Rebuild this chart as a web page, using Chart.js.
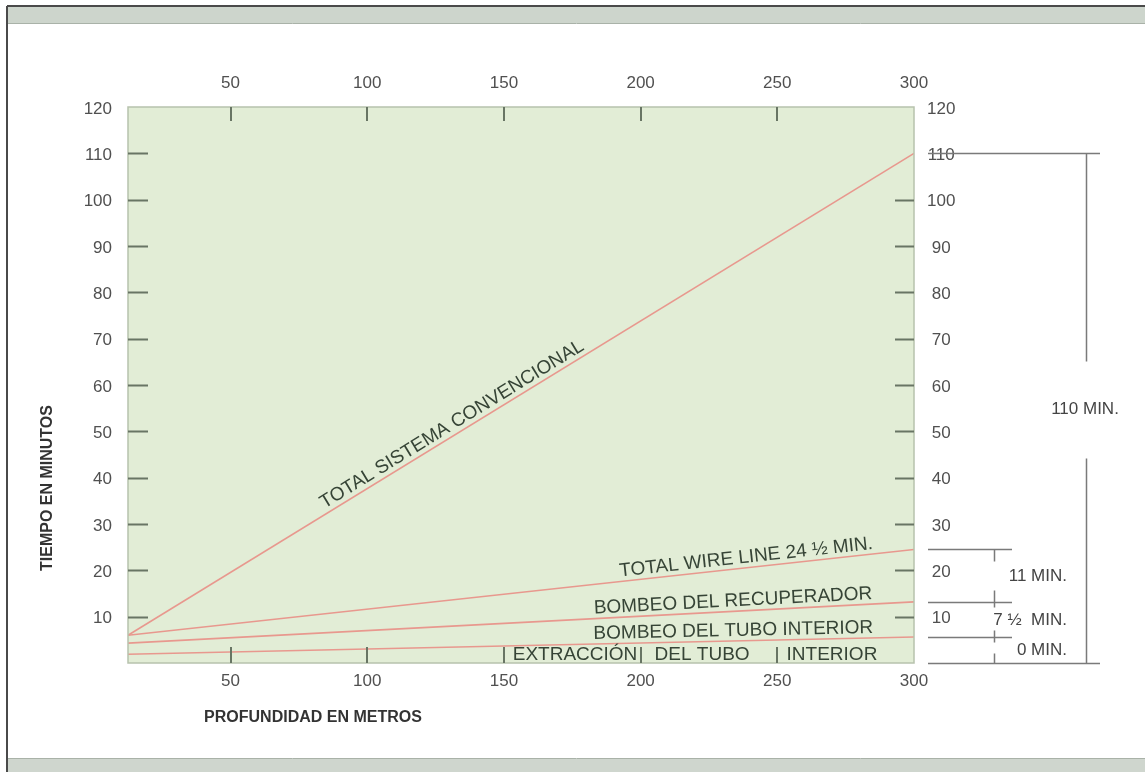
<!DOCTYPE html>
<html>
<head>
<meta charset="utf-8">
<script src="https://cdn.jsdelivr.net/npm/chart.js@4.4.1/dist/chart.umd.min.js"></script>
<style>
  html, body { margin: 0; padding: 0; background: #fff; }
  #chart { display: block; }
</style>
</head>
<body>
<canvas id="chart" width="1145" height="772"></canvas>
<script>
// depth (metres) at both ends of every line
const depth = [12.5, 300];
// minutes at those depths
const convencional = [6, 110];
const wireLine = [6, 24.5];
const recuperador = [4.3, 13.2];
const tuboInterior = [1.9, 5.6];

const xTicks = [50, 100, 150, 200, 250, 300];
const yTicks = [10, 20, 30, 40, 50, 60, 70, 80, 90, 100, 110, 120];

// bracket on the right hand side (minutes)
const bracketLevels = [110, 24.5, 13.2, 5.6, 0];
const bracketTexts = ['11 MIN.', '7 \u00BD  MIN.', '0 MIN.'];

const FONT = '"Liberation Sans", Arial, sans-serif';
const LINE_RED = 'rgb(232,152,142)';
const TICK = 'rgb(104,117,100)';
const INK = 'rgb(54,68,54)';
const NUM = 'rgb(80,80,80)';

function pts(ys) {
    return depth.map((d, i) => ({ x: d, y: ys[i] }));
}

function lineLabel(chart, ys, atX, text) {
    const ctx = chart.ctx;
    const sx = chart.scales.x, sy = chart.scales.y;
    const x0 = sx.getPixelForValue(depth[0]), y0 = sy.getPixelForValue(ys[0]);
    const x1 = sx.getPixelForValue(depth[1]), y1 = sy.getPixelForValue(ys[1]);
    const ang = Math.atan2(y1 - y0, x1 - x0);
    const t = (atX - depth[0]) / (depth[1] - depth[0]);
    ctx.save();
    ctx.translate(x0 + t * (x1 - x0), y0 + t * (y1 - y0));
    ctx.rotate(ang);
    ctx.fillStyle = INK;
    ctx.font = '19px ' + FONT;
    ctx.textAlign = 'center';
    ctx.textBaseline = 'alphabetic';
    ctx.fillText(text, 0, -5);
    ctx.restore();
}

const decor = {
    id: 'decor',
    beforeDraw(chart) {
        const ctx = chart.ctx;
        const { left, top, right, bottom } = chart.chartArea;
        const W = chart.width;
        ctx.save();
        ctx.fillStyle = '#fff';
        ctx.fillRect(0, 0, W, chart.height);
        // page bands
        ctx.fillStyle = '#cdd5cc';
        ctx.fillRect(8, 7, W - 8, 16);
        ctx.fillStyle = '#cfd6ce';
        ctx.fillRect(8, 759, W - 8, 13);
        ctx.strokeStyle = '#a9b2a8';
        ctx.lineWidth = 1;
        ctx.beginPath();
        ctx.moveTo(8, 23.5); ctx.lineTo(W, 23.5);
        ctx.moveTo(8, 758.5); ctx.lineTo(W, 758.5);
        ctx.stroke();
        ctx.strokeStyle = '#4a4a4a';
        ctx.lineWidth = 2;
        ctx.beginPath();
        ctx.moveTo(7, 6); ctx.lineTo(W, 6);
        ctx.moveTo(7, 6); ctx.lineTo(7, chart.height);
        ctx.stroke();
        // plot background
        ctx.fillStyle = '#e2edd6';
        ctx.fillRect(left, top, right - left, bottom - top);
        ctx.restore();
    },
    afterDatasetsDraw(chart) {
        const ctx = chart.ctx;
        const { left, top, right, bottom } = chart.chartArea;
        const sx = chart.scales.x, sy = chart.scales.y;
        ctx.save();
        ctx.strokeStyle = '#b7c2ad';
        ctx.lineWidth = 1.5;
        ctx.strokeRect(left, top, right - left, bottom - top);

        // inside tick marks
        ctx.strokeStyle = TICK;
        ctx.lineWidth = 2;
        ctx.beginPath();
        yTicks.filter(v => v < 120).forEach(v => {
            const y = Math.round(sy.getPixelForValue(v)) + 0.5;
            ctx.moveTo(left, y); ctx.lineTo(left + 20, y);
            if (v <= 100) { ctx.moveTo(right - 19, y); ctx.lineTo(right, y); }
        });
        xTicks.filter(v => v < 300).forEach(v => {
            const x = Math.round(sx.getPixelForValue(v));
            ctx.moveTo(x, top); ctx.lineTo(x, top + 14);
            ctx.moveTo(x, bottom); ctx.lineTo(x, bottom - 16);
        });
        ctx.stroke();

        // labels on the lines
        lineLabel(chart, convencional, 133, 'TOTAL SISTEMA CONVENCIONAL');
        lineLabel(chart, wireLine, 239, 'TOTAL WIRE LINE 24 \u00BD MIN.');
        lineLabel(chart, recuperador, 234, 'BOMBEO DEL RECUPERADOR');
        lineLabel(chart, tuboInterior, 234, 'BOMBEO DEL TUBO INTERIOR');

        ctx.fillStyle = INK;
        ctx.font = '19px ' + FONT;
        ctx.textAlign = 'center';
        ctx.textBaseline = 'middle';
        ctx.fillText('EXTRACCI\u00D3N', sx.getPixelForValue(176), bottom - 8);
        ctx.fillText('DEL TUBO', sx.getPixelForValue(222.5), bottom - 8);
        ctx.fillText('INTERIOR', sx.getPixelForValue(270), bottom - 8);

        // axis titles
        ctx.fillStyle = '#333';
        ctx.font = 'bold 16px ' + FONT;
        ctx.fillText('PROFUNDIDAD EN METROS', 313, 718);
        ctx.save();
        ctx.translate(48, 488);
        ctx.rotate(-Math.PI / 2);
        ctx.fillText('TIEMPO EN MINUTOS', 0, 0);
        ctx.restore();

        // bracket on the right
        const yl = bracketLevels.map(v => Math.round(sy.getPixelForValue(v)) + 0.5);
        const xBig = 1086.5, xSmall = 994.5;
        ctx.strokeStyle = '#7a7a7a';
        ctx.lineWidth = 1.5;
        ctx.beginPath();
        ctx.moveTo(right + 14, yl[0]); ctx.lineTo(1100, yl[0]);
        ctx.moveTo(right + 14, yl[4]); ctx.lineTo(1100, yl[4]);
        const mid = (yl[0] + yl[4]) / 2;
        ctx.moveTo(xBig, yl[0]); ctx.lineTo(xBig, mid - 47);
        ctx.moveTo(xBig, mid + 50); ctx.lineTo(xBig, yl[4]);
        for (let i = 1; i <= 3; i++) {
            ctx.moveTo(right + 14, yl[i]); ctx.lineTo(1012, yl[i]);
        }
        ctx.moveTo(xSmall, yl[1]); ctx.lineTo(xSmall, yl[1] + 12);
        ctx.moveTo(xSmall, yl[2] - 12); ctx.lineTo(xSmall, yl[2] + 5);
        ctx.moveTo(xSmall, yl[3] - 7); ctx.lineTo(xSmall, yl[3] + 5);
        ctx.moveTo(xSmall, yl[4] - 10); ctx.lineTo(xSmall, yl[4]);
        ctx.stroke();

        ctx.fillStyle = '#444';
        ctx.font = '17px ' + FONT;
        ctx.textAlign = 'center';
        ctx.fillText('110 MIN.', 1085, mid + 1);
        ctx.textAlign = 'right';
        for (let i = 0; i < 3; i++) {
            ctx.fillText(bracketTexts[i], 1067, (yl[i + 1] + yl[i + 2]) / 2);
        }
        ctx.restore();
    }
};

const tickFont = { family: FONT, size: 17 };
const setXTicks = s => { s.ticks = xTicks.map(v => ({ value: v })); };
const setYTicks = s => { s.ticks = yTicks.map(v => ({ value: v })); };

new Chart(document.getElementById('chart'), {
    type: 'line',
    data: {
        datasets: [
            { label: 'Total sistema convencional', data: pts(convencional) },
            { label: 'Total wire line', data: pts(wireLine) },
            { label: 'Bombeo del recuperador', data: pts(recuperador) },
            { label: 'Bombeo del tubo interior', data: pts(tuboInterior) }
        ].map(d => Object.assign(d, {
            borderColor: LINE_RED,
            borderWidth: 1.6,
            pointRadius: 0,
            tension: 0,
            xAxisID: 'x',
            yAxisID: 'y'
        }))
    },
    options: {
        responsive: false,
        animation: false,
        devicePixelRatio: 1,
        layout: { padding: 0 },
        plugins: { legend: { display: false }, tooltip: { enabled: false } },
        scales: {
            x: {
                type: 'linear', position: 'bottom', min: 12.5, max: 300,
                grid: { display: false, drawTicks: false }, border: { display: false },
                ticks: { font: tickFont, color: NUM, padding: 8, maxRotation: 0 },
                afterBuildTicks: setXTicks,
                afterFit: s => { s.height = 109; }
            },
            x2: {
                type: 'linear', position: 'top', min: 12.5, max: 300,
                grid: { display: false, drawTicks: false }, border: { display: false },
                ticks: { font: tickFont, color: NUM, padding: 13, maxRotation: 0 },
                afterBuildTicks: setXTicks,
                afterFit: s => { s.height = 107; }
            },
            y: {
                type: 'linear', position: 'left', min: 0, max: 120,
                grid: { display: false, drawTicks: false }, border: { display: false },
                ticks: { font: tickFont, color: NUM, padding: 16, labelOffset: 2 },
                afterBuildTicks: setYTicks,
                afterFit: s => { s.width = 128; }
            },
            y2: {
                type: 'linear', position: 'right', min: 0, max: 120,
                grid: { display: false, drawTicks: false }, border: { display: false },
                ticks: { font: tickFont, color: NUM, padding: 13, crossAlign: 'center', labelOffset: 2 },
                afterBuildTicks: setYTicks,
                afterFit: s => { s.width = 231; }
            }
        }
    },
    plugins: [decor]
});
</script>
</body>
</html>
